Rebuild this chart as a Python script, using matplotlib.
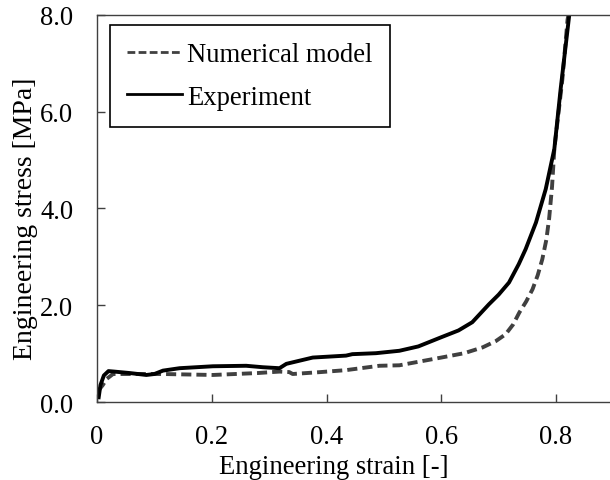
import matplotlib
matplotlib.use("Agg")
import matplotlib.pyplot as plt

# experiment (solid)
exp_strain = [0.003, 0.006, 0.012, 0.02, 0.03, 0.057, 0.086, 0.10, 0.115, 0.144,
              0.202, 0.26, 0.289, 0.318, 0.33, 0.376, 0.434, 0.445, 0.486, 0.527,
              0.56, 0.6, 0.63, 0.654, 0.683, 0.70, 0.718, 0.735, 0.747, 0.765,
              0.782, 0.797, 0.808, 0.823]
exp_stress = [0.1, 0.35, 0.55, 0.64, 0.63, 0.60, 0.56, 0.58, 0.65, 0.70,
              0.74, 0.75, 0.72, 0.70, 0.79, 0.92, 0.96, 0.99, 1.01, 1.06,
              1.15, 1.34, 1.48, 1.65, 2.02, 2.22, 2.47, 2.85, 3.16, 3.71,
              4.40, 5.23, 6.47, 8.0]

# numerical model (dashed)
num_strain = [0.002, 0.01, 0.017, 0.028, 0.06, 0.115, 0.202, 0.28, 0.318, 0.335,
              0.341, 0.39, 0.434, 0.492, 0.527, 0.6, 0.64, 0.672, 0.695, 0.712,
              0.725, 0.736, 0.748, 0.759, 0.768, 0.776, 0.783, 0.788, 0.793,
              0.797, 0.804, 0.811, 0.82, 0.826]
num_stress = [0.23, 0.35, 0.48, 0.58, 0.58, 0.58, 0.56, 0.60, 0.63, 0.62,
              0.58, 0.62, 0.66, 0.75, 0.76, 0.92, 1.01, 1.13, 1.26, 1.40,
              1.60, 1.85, 2.08, 2.33, 2.62, 2.95, 3.35, 3.8, 4.45,
              5.23, 5.95, 6.67, 7.9, 8.3]

x_ticks = [0, 0.2, 0.4, 0.6, 0.8]
x_labels = ["0", "0.2", "0.4", "0.6", "0.8"]
y_ticks = [0, 2, 4, 6, 8]
y_labels = ["0.0", "2.0", "4.0", "6.0", "8.0"]

plt.rcParams['font.family'] = ['Liberation Serif', 'DejaVu Serif']
plt.rcParams['font.size'] = 19.2

fig = plt.figure(figsize=(6.10, 4.81), dpi=100)
ax = fig.add_axes([0.159, 0.162, 0.841, 0.805])

ax.plot(num_strain, num_stress, color='#404040', linestyle=(0, (2.6, 1.3)),
        linewidth=2.8, label='Numerical model')
ax.plot(exp_strain, exp_stress, color='black', linestyle='solid',
        linewidth=2.8, label='Experiment')

ax.set_xlim(0, 0.894)
ax.set_ylim(0, 8)
ax.set_xticks(x_ticks)
ax.set_xticklabels(x_labels)
ax.set_yticks(y_ticks)
ax.set_yticklabels(y_labels)
ax.tick_params(direction='in', length=6, width=1, color='#404040')
ax.tick_params(axis='x', pad=16)
ax.tick_params(axis='y', pad=17)
ax.spines['right'].set_visible(False)
for s in ['left', 'bottom', 'top']:
    ax.spines[s].set_color('#404040')
    ax.spines[s].set_linewidth(1)

# x label sits left of the axes centre in the reference (axis was cropped)
ax.set_xlabel("Engineering strain [-]")
ax.xaxis.set_label_coords(0.462, -0.133, transform=ax.transAxes)
ax.set_ylabel("Engineering stress [MPa]", fontsize=20)
ax.yaxis.set_label_coords(-0.163, 0.475, transform=ax.transAxes)
ax.yaxis.label.set_va('top')

leg = ax.legend(loc='upper left', bbox_to_anchor=(0.025, 0.974), borderaxespad=0,
                fancybox=False, framealpha=1, edgecolor='black',
                handlelength=2.05, handletextpad=0.2, labelspacing=0.65,
                borderpad=0.65)
leg.get_frame().set_linewidth(1.2)
for line in leg.get_lines():
    line.set_linewidth(2)
leg.get_lines()[0].set_linestyle((0, (2.8, 1.2)))

fig.savefig("out.png", dpi=100)
